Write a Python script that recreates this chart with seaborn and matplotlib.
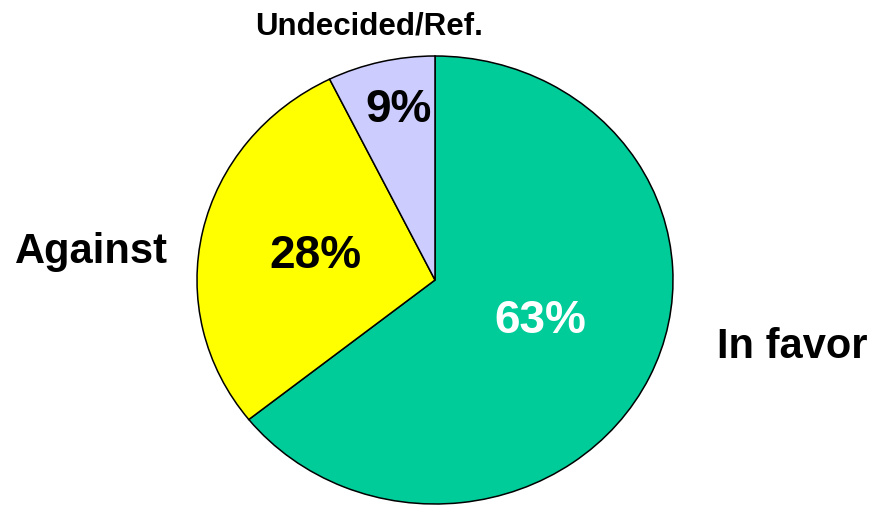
import seaborn as sns
import matplotlib.pyplot as plt

# slice sizes as measured from the wedge angles, labels as printed on the chart
categories = ["In favor", "Against", "Undecided/Ref."]
shares = [64.3, 28.4, 7.3]
pct_labels = ["63%", "28%", "9%"]
colors = ["#00CC99", "#FFFF00", "#CCCCFF"]

W, H = 873, 506
cx, cy, rx, ry = 435, 281, 238, 224


def to_data(px, py):
    # pixel position in the picture -> pie units (ellipse of radius 1)
    return (px - cx) / rx, (cy - py) / ry


sns.set_style("white")
plt.rcParams["font.family"] = ["Liberation Sans", "DejaVu Sans"]

fig = plt.figure(figsize=(W / 100, H / 100), dpi=100)
ax = fig.add_axes([0, 0, 1, 1])
ax.pie(
    shares,
    colors=colors,
    startangle=90,
    counterclock=False,
    radius=1,
    wedgeprops=dict(edgecolor="black", linewidth=1.1),
)
ax.set_aspect("auto")
ax.set_xlim((0 - cx) / rx, (W - cx) / rx)
ax.set_ylim((cy - H) / ry, (cy - 0) / ry)
ax.axis("off")

# category labels (x centre, baseline y in pixels, size)
cat_pos = [(792, 358, 30), (91, 263, 30), (369, 34, 22.5)]
for name, (px, py, fs) in zip(categories, cat_pos):
    x, y = to_data(px, py)
    ax.text(x, y, name, ha="center", va="baseline", fontsize=fs,
            fontweight="bold", color="black")

pct_pos = [(540, 333, "white"), (315, 268, "black"), (399, 122, "black")]
for lab, (px, py, c) in zip(pct_labels, pct_pos):
    x, y = to_data(px, py)
    ax.text(x, y, lab, ha="center", va="baseline", fontsize=33,
            fontweight="bold", color=c)

fig.savefig("out.png", dpi=100)
plt.close(fig)
